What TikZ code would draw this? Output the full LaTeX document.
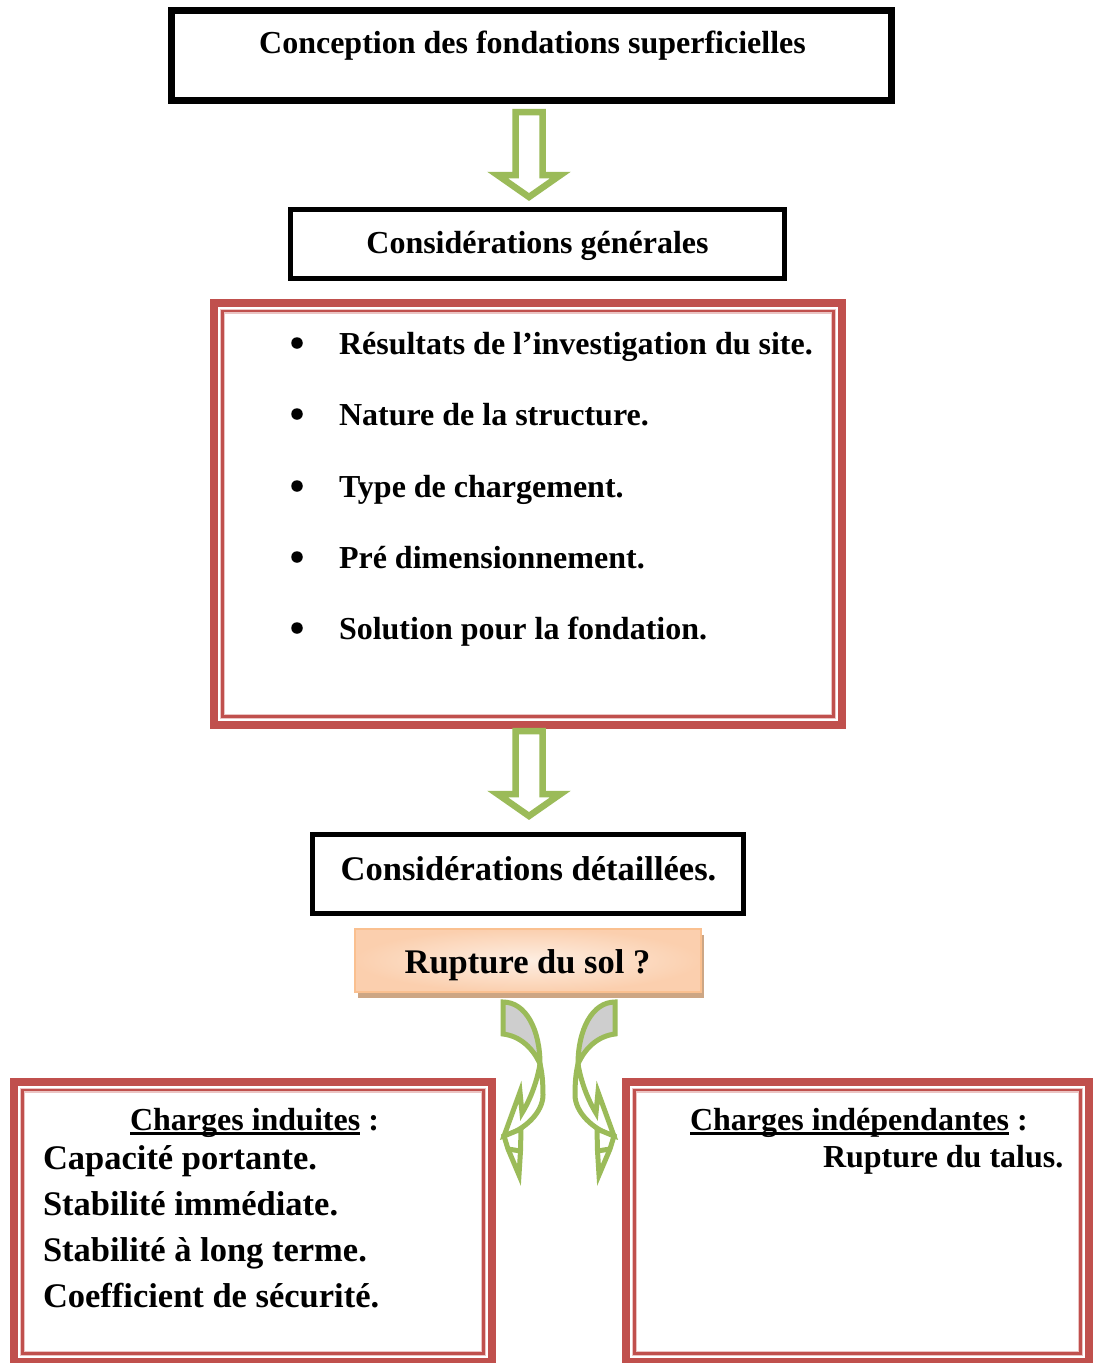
\documentclass[tikz,border=0pt]{standalone}
\usepackage{fontspec}
\setmainfont{Liberation Serif}
\usetikzlibrary{shadows}
\definecolor{ogreen}{HTML}{9BBB59}
\definecolor{ored}{HTML}{C0504D}
\definecolor{opink}{HTML}{EBC4C3}
\definecolor{peach}{HTML}{FAC090}
\definecolor{peachlight}{HTML}{FDEEE2}
\definecolor{peachmid}{HTML}{FBCFAE}
\definecolor{tanshadow}{RGB}{205,166,132}
\definecolor{agray}{RGB}{206,206,206}
\begin{document}
\begin{tikzpicture}[x=1pt,y=-1pt,
  txt/.style={inner sep=0pt, outer sep=0pt, font=\bfseries\fontsize{32}{38}\selectfont, anchor=base west},
  bigtxt/.style={txt, font=\bfseries\fontsize{34.5}{40}\selectfont},
  blackbox/.style={draw=black, inner sep=0pt, outer sep=0pt, line join=miter},
  redbox/.style={draw=ored, line width=8pt, inner sep=0pt, outer sep=0pt},
  redinnerhalo/.style={draw=opink, line width=5pt},
  redinner/.style={draw=ored, line width=2.2pt},
  garrow/.style={draw=ogreen, line width=6.5pt, fill=white, line join=miter},
  dotb/.style={circle, fill=black, inner sep=0pt, minimum size=11.5pt},
  rupbox/.style={draw=peach, line width=2pt, inner sep=0pt, outer sep=0pt,
     inner color=peachlight, outer color=peachmid,
     drop shadow={shadow xshift=3.5pt, shadow yshift=-6pt, fill=tanshadow, opacity=1}},
  curvline/.style={draw=ogreen, line width=5pt, line join=miter},
  curvarrow/.pic={
    % back (gray) part of the ribbon
    \path[curvline, fill=agray] (503,1002) .. controls (526,1002) and (540,1030) .. (540,1064)
       .. controls (533,1048) and (520,1036) .. (503,1034) -- cycle;
    % front part of the ribbon with the arrow base
    \path[curvline, fill=white] (540,1064) .. controls (542,1072) and (543,1082) .. (543,1095)
       .. controls (543,1112) and (525,1130) .. (504,1136) -- (520,1092) -- (522,1113)
       .. controls (530,1100) and (537,1082) .. (540,1064) -- cycle;
    % arrow tip
    \path[curvline, fill=white] (504,1136) -- (508,1149) -- (519,1175) -- (520.5,1151)
       -- (521,1129) -- cycle;
    \path[curvline] (508,1149) -- (520.5,1151);
  }
]
\useasboundingbox (0,0) rectangle (1094,1363);
\fill[white] (0,0) rectangle (1094,1363);

% top box
\node[blackbox, line width=6.5pt, minimum width=720pt, minimum height=89.8pt] (b1) at (531.5,55.6) {};
\node[txt, anchor=base] (t1) at (532.5,53.5) {Conception des fondations superficielles};

% arrow 1
\path[garrow] (515.5,112) -- (542.5,112) -- (542.5,175) -- (560.5,175) -- (529,197)
   -- (497.5,175) -- (515.5,175) -- cycle;

% box 2
\node[blackbox, line width=5.5pt, minimum width=494pt, minimum height=69pt] (b2) at (537.5,244) {};
\node[txt, anchor=base] (t2) at (537.5,253) {Considérations générales};

% red box 1
\node[redbox, minimum width=628pt, minimum height=422.5pt] (r1) at (528,513.75) {};
\draw[redinnerhalo] ([shift={(8.5,8.5)}]r1.north west) rectangle ([shift={(-8.5,-8.5)}]r1.south east);
\draw[redinner] ([shift={(8.5,8.5)}]r1.north west) rectangle ([shift={(-8.5,-8.5)}]r1.south east);

\node[dotb] (d1) at (297,343) {};
\node[dotb] (d2) at (297,414) {};
\node[dotb] (d3) at (297,486) {};
\node[dotb] (d4) at (297,557) {};
\node[dotb] (d5) at (297,628) {};
\node[txt] (i1) at (339,354) {Résultats de l’investigation du site.};
\node[txt] (i2) at (339,425) {Nature de la structure.};
\node[txt] (i3) at (339,497) {Type de chargement.};
\node[txt] (i4) at (339,568) {Pré dimensionnement.};
\node[txt] (i5) at (339,639) {Solution pour la fondation.};

% arrow 2
\path[garrow] (515.5,731) -- (542.5,731) -- (542.5,794) -- (560.5,794) -- (529,816)
   -- (497.5,794) -- (515.5,794) -- cycle;

% box 3
\node[blackbox, line width=5.5pt, minimum width=431pt, minimum height=79pt] (b3) at (528,874) {};
\node[bigtxt, anchor=base] (t3) at (528.5,880) {Considérations détaillées.};

% rupture box
\node[rupbox, minimum width=346pt, minimum height=63.5pt] (rup) at (527.5,960.25) {};
\node[bigtxt, anchor=base] (t4) at (527.5,973.5) {Rupture du sol ?};

% curved arrows
\pic (cl) at (0,0) {curvarrow};
\pic[xscale=-1] (cr) at (1118,0) {curvarrow};

% bottom left box
\node[redbox, minimum width=478pt, minimum height=280.3pt] (r2) at (253,1221.85) {};
\draw[redinnerhalo] ([shift={(8.5,8.5)}]r2.north west) rectangle ([shift={(-8.5,-8.5)}]r2.south east);
\draw[redinner] ([shift={(8.5,8.5)}]r2.north west) rectangle ([shift={(-8.5,-8.5)}]r2.south east);
\node[txt] (ci) at (130,1130) {Charges induites};
\node[txt] (cic) at (ci.base east) {\ :};
\draw[line width=2.6pt] ([yshift=-3.5pt]ci.base west) -- ([yshift=-3.5pt]ci.base east);
\node[bigtxt] (l1) at (43,1169) {Capacité portante.};
\node[bigtxt] (l2) at (43,1215) {Stabilité immédiate.};
\node[bigtxt] (l3) at (43,1261) {Stabilité à long terme.};
\node[bigtxt] (l4) at (43,1307) {Coefficient de sécurité.};

% bottom right box
\node[redbox, minimum width=463pt, minimum height=280.3pt] (r3) at (857.5,1221.85) {};
\draw[redinnerhalo] ([shift={(8.5,8.5)}]r3.north west) rectangle ([shift={(-8.5,-8.5)}]r3.south east);
\draw[redinner] ([shift={(8.5,8.5)}]r3.north west) rectangle ([shift={(-8.5,-8.5)}]r3.south east);
\node[txt] (cd) at (690,1130) {Charges indépendantes};
\node[txt] (cdc) at (cd.base east) {\ :};
\draw[line width=2.6pt] ([yshift=-3.5pt]cd.base west) -- ([yshift=-3.5pt]cd.base east);
\node[txt] (rt) at (823,1167) {Rupture du talus.};
\end{tikzpicture}
\end{document}
